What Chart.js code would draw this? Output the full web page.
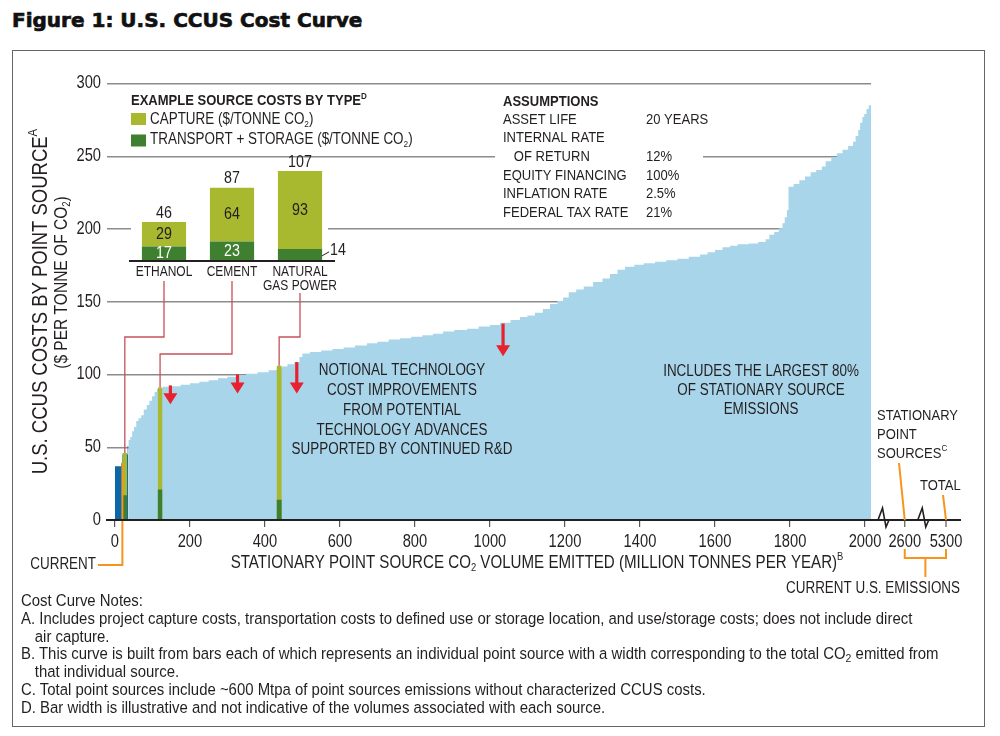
<!DOCTYPE html>
<html>
<head>
<meta charset="utf-8">
<title>U.S. CCUS Cost Curve</title>
<script src="https://cdn.jsdelivr.net/npm/chart.js@4.4.1/dist/chart.umd.min.js"></script>
<style>
  body { margin: 0; background: #fff; }
  #page { position: relative; width: 1000px; height: 736px; overflow: hidden; color: #231f20;
          font-family: 'Liberation Sans', Arial, sans-serif; }
  #title { position: absolute; left: 12px; top: 10px; margin: 0; white-space: nowrap; color: #111;
           font: bold 20px/20px 'DejaVu Sans', sans-serif; -webkit-text-stroke: 0.7px #111; }
  #frame { position: absolute; left: 12px; top: 50px; width: 973px; height: 677px;
           border: 1.5px solid #666; box-sizing: border-box; }
  #costChart { position: absolute; left: 0; top: 0; }
  #exampleChart { position: absolute; }
  #notes { position: absolute; left: 21px; top: 592px; font-size: 16.3px; line-height: 17.8px; white-space: nowrap;
           transform: scaleX(0.917); transform-origin: 0 0; }
  #notes .cont { padding-left: 15px; }
  #notes sub { font-size: 0.7em; line-height: 0; vertical-align: -0.25em; }
</style>
</head>
<body>
<div id="page">
  <h1 id="title">Figure 1: U.S. CCUS Cost Curve</h1>
  <div id="frame"></div>
  <canvas id="costChart" width="1000" height="736"></canvas>
  <canvas id="exampleChart" width="300" height="215"></canvas>
  <div id="notes">
    <div>Cost Curve Notes:</div>
    <div>A. Includes project capture costs, transportation costs to defined use or storage location, and use/storage costs; does not include direct</div>
    <div class="cont">air capture.</div>
    <div>B. This curve is built from bars each of which represents an individual point source with a width corresponding to the total CO<sub>2</sub> emitted from</div>
    <div class="cont">that individual source.</div>
    <div>C. Total point sources include ~600 Mtpa of point sources emissions without characterized CCUS costs.</div>
    <div>D. Bar width is illustrative and not indicative of the volumes associated with each source.</div>
  </div>
</div>
<script>
// cost curve: cumulative volume (Mt CO2/yr) where each step starts, and its cost ($/t)
const curveVolume = [36, 41, 46, 51, 57, 63, 70, 77, 85, 92, 99, 106, 112, 127, 150, 175, 200, 225, 250, 275,
  300, 325, 350, 380, 410, 431, 445, 460, 478, 492, 500, 520, 550, 580, 610, 640, 672, 700, 730, 760,
  790, 820, 848, 875, 905, 939, 970, 1000, 1027, 1055, 1080, 1100, 1120, 1141, 1160, 1180, 1195, 1210, 1230, 1250,
  1275, 1300, 1320, 1340, 1360, 1385, 1410, 1440, 1470, 1500, 1530, 1560, 1580, 1600, 1620, 1640, 1660, 1690, 1715, 1735,
  1745, 1758, 1770, 1780, 1786, 1792, 1796, 1810, 1825, 1840, 1855, 1870, 1885, 1895, 1910, 1925, 1940, 1955, 1968, 1975,
  1982, 1987, 1993, 1998, 2004, 2010, 2016];
const curveCost = [55, 57, 61, 64, 68, 70, 72, 76, 79, 82, 85, 88, 90, 91.5, 92, 93, 94, 95, 96, 97.5,
  98.5, 99.5, 100.5, 101.5, 103, 104, 105.5, 107, 108.5, 112, 114.5, 115.5, 116.5, 117.5, 118.5, 120, 121.5, 122.5, 124, 125,
  126, 127, 128, 129.5, 130.5, 131.5, 133, 134, 135.5, 137.5, 139.5, 140.5, 142.5, 145, 148.5, 150.5, 153, 156.5, 158.5, 160.5,
  163.5, 166, 169, 172, 174, 175.5, 176.5, 177.5, 178.5, 179.5, 181, 182.5, 184, 185.5, 187.5, 188.5, 189.5, 190, 191, 193,
  196, 198, 200.5, 204, 208, 213, 229, 231, 233.5, 236, 239, 240.5, 243, 246.5, 249.5, 252, 254.5, 257, 260, 264,
  268, 273, 277, 279, 282.5, 285, 285];

// current (operating) sources
const currentVolume = [0, 17, 20, 34, 36];
const currentCost = [37, 39, 45, 51, 51];

// highlighted sources on the curve: ethanol, cement, natural gas power
const markedStart = [20, 114, 431];
const markedEnd = [33, 127, 445];
const markedTransport = [17, 21, 14];
const markedTotal = [46, 91, 106];

// inset example
const exampleTypes = [['ETHANOL'], ['CEMENT'], ['NATURAL', 'GAS POWER']];
const exampleTransport = [17, 23, 14];
const exampleCapture = [29, 64, 93];

// ticks
const xTickValues = [0, 200, 400, 600, 800, 1000, 1200, 1400, 1600, 1800, 2000];
const yTickValues = [0, 50, 100, 150, 200, 250, 300];
const breakTickLabels = ['2600', '5300'];
const breakTickAt = [2106, 2216];   // where they sit on the compressed part of the axis
const breakMarks = [2048, 2154];
const axisEnd = 2256;

// red arrows: x, from cost, to cost
const arrowAt = [148, 327, 485, 1035];
const arrowFrom = [92.5, 100, 108.5, 135];
const arrowTo = [79.5, 87, 87, 112.5];

const assumptionLabels = ['ASSET LIFE', 'INTERNAL RATE', '   OF RETURN', 'EQUITY FINANCING', 'INFLATION RATE', 'FEDERAL TAX RATE'];
const assumptionValues = ['20 YEARS', '', '12%', '100%', '2.5%', '21%'];
const notionalText = ['NOTIONAL TECHNOLOGY', 'COST IMPROVEMENTS', 'FROM POTENTIAL', 'TECHNOLOGY ADVANCES', 'SUPPORTED BY CONTINUED R&D'];
const coverageText = ['INCLUDES THE LARGEST 80%', 'OF STATIONARY SOURCE', 'EMISSIONS'];

const SANS = "'Liberation Sans', Arial, sans-serif";
const COND = 0.84;   // squeeze to look like a condensed face
const INK = '#231f20';
const LIGHT_BLUE = '#a9d5ea';
const DARK_BLUE = '#0b67a9';
const LIME = '#a8b92f';
const GREEN = '#3f7f30';
const RED = '#e8212e';
const LINK = '#c8505b';
const ORANGE = '#f7941d';
const INSET_LEFT = 120, INSET_TOP = 85;

function font(size, bold) {
    return (bold ? 'bold ' : '') + size + 'px ' + SANS;
}

function drawText(ctx, text, x, y, size, align, bold) {
    ctx.save();
    ctx.font = font(size, bold);
    ctx.textAlign = align || 'left';
    ctx.textBaseline = 'middle';
    ctx.translate(x, y);
    ctx.scale(COND, 1);
    ctx.fillText(text, 0, 0);
    ctx.restore();
}

// text made of runs: [text, ''|'sup'|'sub']
function richText(ctx, runs, x, y, size, align, bold) {
    const parts = runs.map(r => {
        const s = r[1] ? size * 0.62 : size;
        ctx.font = font(s, bold);
        return { t: r[0], mode: r[1], s: s, w: ctx.measureText(r[0]).width * COND };
    });
    const total = parts.reduce((a, p) => a + p.w, 0);
    let cx = align === 'center' ? x - total / 2 : align === 'right' ? x - total : x;
    parts.forEach(p => {
        const dy = p.mode === 'sup' ? -size * 0.33 : p.mode === 'sub' ? size * 0.28 : 0;
        drawText(ctx, p.t, cx, y + dy, p.s, 'left', bold);
        cx += p.w;
    });
}

function textLines(ctx, lines, x, y, step, size, align) {
    lines.forEach((l, i) => drawText(ctx, l, x, y + i * step, size, align));
}

function polyline(ctx, pts, color, width) {
    ctx.strokeStyle = color;
    ctx.lineWidth = width;
    ctx.beginPath();
    pts.forEach((p, i) => i ? ctx.lineTo(p[0], p[1]) : ctx.moveTo(p[0], p[1]));
    ctx.stroke();
}

// ---------- inset chart ----------
const exampleCanvas = document.getElementById('exampleChart');
exampleCanvas.style.left = INSET_LEFT + 'px';
exampleCanvas.style.top = INSET_TOP + 'px';

const exampleLabels = {
    id: 'exampleLabels',
    afterDatasetsDraw(chart) {
        const ctx = chart.ctx;
        const tMeta = chart.getDatasetMeta(0);
        const cMeta = chart.getDatasetMeta(1);
        const xs = chart.scales.x;
        ctx.save();
        exampleCapture.forEach((cap, i) => {
            const tBar = tMeta.data[i], cBar = cMeta.data[i];
            const tr = exampleTransport[i];
            ctx.fillStyle = INK;
            drawText(ctx, String(cap + tr), cBar.x, cBar.y - 9, 17, 'center');
            drawText(ctx, String(cap), cBar.x, (cBar.y + cBar.base) / 2, 17, 'center');
            const midT = (tBar.y + tBar.base) / 2;
            if (tr >= 15) {
                ctx.fillStyle = '#fff';
                drawText(ctx, String(tr), tBar.x, midT, 17, 'center');
            } else {
                const right = tBar.x + tBar.width / 2;
                polyline(ctx, [[right, midT + 1], [right + 7, midT - 3]], INK, 1);
                drawText(ctx, String(tr), right + 8, midT - 5, 17, 'left');
            }
            // category label under the baseline
            ctx.fillStyle = INK;
            exampleTypes[i].forEach((line, k) => {
                drawText(ctx, line, xs.getPixelForValue(i), xs.top + 11 + k * 14.3, 14.3, 'center');
            });
        });

        // legend
        ctx.fillStyle = INK;
        richText(ctx, [['EXAMPLE SOURCE COSTS BY TYPE', ''], ['D', 'sup']], 11, 16, 15.5, 'left', true);
        ctx.fillStyle = LIME;
        ctx.fillRect(11, 28, 15, 12);
        ctx.fillStyle = GREEN;
        ctx.fillRect(11, 49.5, 15, 12);
        ctx.fillStyle = INK;
        richText(ctx, [['CAPTURE ($/TONNE CO', ''], ['2', 'sub'], [')', '']], 30, 35, 16, 'left');
        richText(ctx, [['TRANSPORT + STORAGE ($/TONNE CO', ''], ['2', 'sub'], [')', '']], 30, 55, 16, 'left');
        ctx.restore();
    }
};

const exampleChart = new Chart(exampleCanvas, {
    type: 'bar',
    data: {
        labels: exampleTypes,
        datasets: [
            { label: 'TRANSPORT + STORAGE', data: exampleTransport, backgroundColor: GREEN },
            { label: 'CAPTURE', data: exampleCapture, backgroundColor: LIME }
        ]
    },
    options: {
        responsive: false,
        animation: false,
        layout: { padding: { left: 10, top: 75, right: 86, bottom: 0 } },
        plugins: { legend: { display: false }, tooltip: { enabled: false } },
        datasets: { bar: { barPercentage: 0.65, categoryPercentage: 1 } },
        scales: {
            x: {
                stacked: true,
                afterFit: s => { s.height = 39.3; },
                grid: { display: false, drawTicks: false },
                border: { display: true, color: INK, width: 2, z: 1 },
                ticks: { display: false }
            },
            y: { stacked: true, display: false, min: 0, max: 120 }
        }
    },
    plugins: [exampleLabels]
});

// ---------- main cost curve ----------
function toPoints(xs, ys) {
    return xs.map((x, i) => ({ x: x, y: ys[i] }));
}

function block(x0, x1, y, color) {
    return {
        data: [{ x: x0, y: y }, { x: x1, y: y }],
        backgroundColor: color, borderColor: 'rgba(0,0,0,0)', borderWidth: 0,
        fill: 'origin', pointRadius: 0
    };
}

const overlay = {
    id: 'overlay',
    beforeDatasetsDraw(chart) {
        const ctx = chart.ctx;
        ctx.save();
        ctx.fillStyle = '#fff';
        ctx.fillRect(131, 160, 197, 138);   // behind the inset
        ctx.fillRect(495, 88, 208, 134);    // behind the assumptions
        ctx.restore();
    },
    afterDatasetsDraw(chart) {
        const ctx = chart.ctx;
        const xs = chart.scales.x, ys = chart.scales.y;
        const px = v => xs.getPixelForValue(v);
        const py = v => ys.getPixelForValue(v);
        const base = py(0);
        ctx.save();

        // tick labels
        ctx.fillStyle = INK;
        xs.ticks.forEach(t => drawText(ctx, String(t.value), px(t.value), base + 22.5, 17.5, 'center'));
        ys.ticks.forEach(t => drawText(ctx, String(t.value), xs.left - 6, py(t.value), 17.5, 'right'));

        // broken part of the x axis
        polyline(ctx, [[chart.chartArea.right, base], [px(axisEnd), base]], INK, 2);
        breakTickAt.forEach((v, i) => {
            polyline(ctx, [[px(v), base], [px(v), base + 7]], '#555', 1.2);
            ctx.fillStyle = INK;
            drawText(ctx, breakTickLabels[i], px(v), base + 22.5, 17.5, 'center');
        });
        breakMarks.forEach(v => {
            const x = px(v);
            polyline(ctx, [[x - 5, base], [x - 0.5, base - 12], [x + 3, base + 7], [x + 6, base]], INK, 1.6);
        });

        // axis titles
        ctx.fillStyle = INK;
        richText(ctx, [['STATIONARY POINT SOURCE CO', ''], ['2', 'sub'],
            [' VOLUME EMITTED (MILLION TONNES PER YEAR)', ''], ['B', 'sup']], 537, 563, 18, 'center');
        ctx.save();
        ctx.translate(41, 301.5);
        ctx.rotate(-Math.PI / 2);
        richText(ctx, [['U.S. CCUS COSTS BY POINT SOURCE', ''], ['A', 'sup']], 0, 0, 22, 'center');
        ctx.restore();
        ctx.save();
        ctx.translate(62, 282.5);
        ctx.rotate(-Math.PI / 2);
        richText(ctx, [['($ PER TONNE OF CO', ''], ['2', 'sub'], [')', '']], 0, 0, 18.5, 'center');
        ctx.restore();

        // connectors from the inset to the marked bars
        const connectorStart = [281, 281, 293];
        const connectorElbow = [337, 354, 337];
        markedStart.forEach((s, i) => {
            const fromX = exampleChart.scales.x.getPixelForValue(i) + INSET_LEFT;
            const toX = px((s + markedEnd[i]) / 2);
            polyline(ctx, [[fromX, connectorStart[i]], [fromX, connectorElbow[i]],
                [toX, connectorElbow[i]], [toX, py(markedTotal[i])]], LINK, 1.3);
        });

        // red arrows
        ctx.fillStyle = RED;
        arrowAt.forEach((v, i) => {
            const x = px(v), y0 = py(arrowFrom[i]), y1 = py(arrowTo[i]);
            ctx.fillRect(x - 1.6, y0, 3.2, y1 - y0 - 9);
            ctx.beginPath();
            ctx.moveTo(x - 7, y1 - 11);
            ctx.lineTo(x + 7, y1 - 11);
            ctx.lineTo(x, y1);
            ctx.closePath();
            ctx.fill();
        });

        // text annotations
        ctx.fillStyle = INK;
        textLines(ctx, notionalText, 402, 371, 19.7, 16, 'center');
        textLines(ctx, coverageText, 761, 372, 19, 16, 'center');
        textLines(ctx, ['STATIONARY', 'POINT'], 877, 416, 18.7, 15.5, 'left');
        richText(ctx, [['SOURCES', ''], ['C', 'sup']], 877, 453.5, 15.5, 'left');
        drawText(ctx, 'TOTAL', 920, 486, 15.5, 'left');
        drawText(ctx, 'CURRENT', 96, 565, 16, 'right');
        drawText(ctx, 'CURRENT U.S. EMISSIONS', 960, 589, 16, 'right');

        // assumptions
        drawText(ctx, 'ASSUMPTIONS', 503, 101.5, 15.5, 'left', true);
        assumptionLabels.forEach((l, i) => {
            const y = 119.5 + i * 18.6;
            drawText(ctx, l, 503, y, 15.5, 'left');
            drawText(ctx, assumptionValues[i], 646, y, 15.5, 'left');
        });

        // orange leaders
        const cx = px(20);
        polyline(ctx, [[98, 565], [cx, 565], [cx, py(39.5)]], ORANGE, 2);
        polyline(ctx, [[899, 463], [px(breakTickAt[0]), base]], ORANGE, 2);
        polyline(ctx, [[943, 495], [px(breakTickAt[1]), base]], ORANGE, 2);
        const b0 = px(breakTickAt[0]), b1 = px(breakTickAt[1]);
        polyline(ctx, [[b0, 549], [b0, 558], [b1, 558], [b1, 549]], ORANGE, 2);
        polyline(ctx, [[(b0 + b1) / 2, 558], [(b0 + b1) / 2, 577]], ORANGE, 2);

        ctx.restore();
    }
};

new Chart(document.getElementById('costChart'), {
    type: 'line',
    data: {
        datasets: [
            ...markedStart.map((s, i) => block(s, markedEnd[i], markedTransport[i], GREEN)),
            ...markedStart.map((s, i) => block(s, markedEnd[i], markedTotal[i], LIME)),
            {
                data: toPoints(currentVolume, currentCost), stepped: true, fill: 'origin',
                backgroundColor: DARK_BLUE, borderColor: 'rgba(0,0,0,0)', borderWidth: 0, pointRadius: 0
            },
            {
                data: toPoints(curveVolume, curveCost), stepped: true, fill: 'origin',
                backgroundColor: LIGHT_BLUE, borderColor: 'rgba(0,0,0,0)', borderWidth: 0, pointRadius: 0
            }
        ]
    },
    options: {
        responsive: false,
        animation: false,
        layout: { padding: { left: 0, top: 83.5, right: 129, bottom: 0 } },
        plugins: { legend: { display: false }, tooltip: { enabled: false } },
        scales: {
            x: {
                type: 'linear', min: -21, max: 2016,
                afterFit: s => { s.height = 216; },
                afterBuildTicks: s => { s.ticks = xTickValues.map(v => ({ value: v })); },
                grid: { drawOnChartArea: false, drawTicks: true, tickLength: 7, color: '#555', lineWidth: 1.2 },
                border: { display: true, color: INK, width: 2, z: 1 },
                ticks: { display: false }
            },
            y: {
                min: 0, max: 300,
                afterFit: s => { s.width = 107; },
                afterBuildTicks: s => { s.ticks = yTickValues.map(v => ({ value: v })); },
                grid: { color: '#8c8c8c', lineWidth: 1.5, drawTicks: false },
                border: { display: false },
                ticks: { display: false }
            }
        }
    },
    plugins: [overlay]
});
</script>
</body>
</html>
